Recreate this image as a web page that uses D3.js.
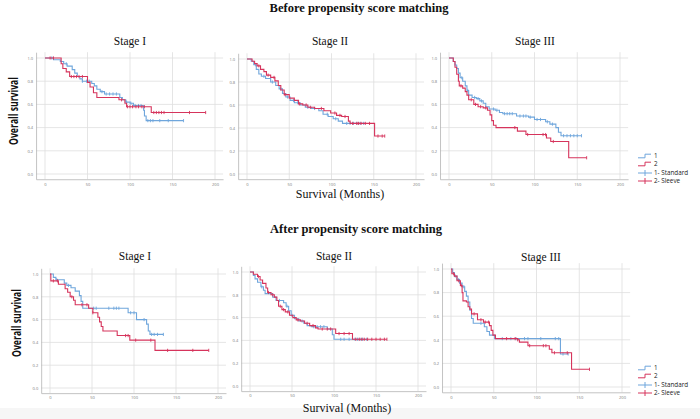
<!DOCTYPE html>
<html>
<head>
<meta charset="utf-8">
<script src="https://cdn.jsdelivr.net/npm/d3@7"></script>
<style>
	body { margin: 0; background: white; }
</style>
</head>
<body>
<div id="viz"></div>
<script>

// Axis ticks
var xTicks = [0, 50, 100, 150, 200],
	yTicks = [0, 0.2, 0.4, 0.6, 0.8, 1.0];

var stageNames = ["Stage I", "Stage II", "Stage III"],
	rowTitles = ["Before propensity score matching", "After propensity score matching"],
	legendLabels = ["1", "2", "1- Standard", "2- Sleeve"];

// Kaplan-Meier steps [month, survival], last follow-up and censored months
// Before matching, stage I
var beforeIStandard = [[0,1],[10,0.985],[18,0.97],[22,0.95],[26,0.93],[32,0.90],[35,0.87],[38,0.84],[41,0.82],[44,0.80],[55,0.78],[58,0.76],[61,0.73],[65,0.71],[70,0.69],[88,0.66],[91,0.64],[95,0.62],[100,0.61],[104,0.59],[116,0.55],[117,0.50],[119,0.46]],
	beforeIStandardEnd = 163,
	beforeIStandardCensor = [8, 25, 44, 49, 52, 67, 72, 76, 80, 84, 96, 101, 106, 110, 113, 121, 124, 127, 135, 145, 163];
var beforeISleeve = [[0,1],[19,0.95],[21,0.91],[25,0.88],[29,0.84],[50,0.79],[53,0.75],[57,0.70],[61,0.66],[87,0.64],[94,0.61],[96,0.58],[125,0.53]],
	beforeISleeveEnd = 189,
	beforeISleeveCensor = [6, 10, 31, 34, 37, 40, 44, 90, 97, 100, 103, 107, 110, 114, 117, 128, 131, 134, 137, 140, 170, 189];

// Before matching, stage II
var beforeIIStandard = [[0,1],[5,0.98],[8,0.95],[11,0.91],[14,0.87],[17,0.85],[22,0.83],[28,0.80],[34,0.77],[38,0.74],[42,0.70],[46,0.67],[51,0.64],[56,0.62],[63,0.60],[69,0.58],[76,0.57],[85,0.55],[90,0.52],[96,0.50],[102,0.48],[108,0.46],[113,0.44]],
	beforeIIStandardEnd = 140,
	beforeIIStandardCensor = [10, 20, 30, 40, 48, 55, 60, 72, 80, 95, 105, 118, 122, 126, 130, 134, 138];
var beforeIISleeve = [[0,1],[6,0.98],[9,0.96],[12,0.94],[16,0.91],[20,0.89],[23,0.86],[28,0.84],[33,0.81],[37,0.77],[40,0.73],[44,0.69],[50,0.66],[56,0.64],[61,0.61],[66,0.60],[72,0.58],[80,0.57],[91,0.55],[99,0.53],[106,0.51],[112,0.50],[120,0.46],[122,0.44],[151,0.33]],
	beforeIISleeveEnd = 163,
	beforeIISleeveCensor = [14, 25, 32, 45, 62, 70, 75, 88, 104, 110, 116, 125, 130, 132, 135, 140, 145, 155, 160, 163];

// Before matching, stage III
var beforeIIIStandard = [[0,1],[5,0.97],[7,0.94],[9,0.91],[11,0.87],[13,0.83],[16,0.80],[19,0.76],[21,0.72],[23,0.68],[27,0.66],[32,0.65],[36,0.63],[40,0.61],[43,0.58],[47,0.56],[54,0.55],[59,0.53],[63,0.52],[79,0.50],[93,0.49],[100,0.47],[113,0.45],[118,0.43],[125,0.40],[128,0.36],[131,0.33]],
	beforeIIIStandardEnd = 155,
	beforeIIIStandardCensor = [15, 22, 30, 34, 38, 52, 56, 65, 68, 71, 74, 83, 87, 90, 95, 103, 107, 115, 121, 134, 138, 142, 146, 150, 155];
var beforeIIISleeve = [[0,1],[5,0.97],[7,0.92],[9,0.86],[11,0.80],[12,0.76],[16,0.74],[19,0.71],[21,0.68],[23,0.64],[29,0.60],[34,0.58],[40,0.57],[45,0.55],[48,0.51],[50,0.46],[52,0.42],[55,0.40],[80,0.37],[90,0.34],[114,0.31],[119,0.28],[140,0.14]],
	beforeIIISleeveEnd = 161,
	beforeIIISleeveCensor = [14, 26, 31, 37, 43, 77, 92, 110, 113, 122, 161];

// After matching, stage I
var afterIStandard = [[0,1],[4,0.97],[7,0.95],[17,0.92],[20,0.90],[25,0.88],[30,0.85],[35,0.81],[37,0.76],[39,0.70],[93,0.66],[103,0.60],[115,0.56],[117,0.50],[119,0.47]],
	afterIStandardEnd = 135,
	afterIStandardCensor = [8, 22, 52, 55, 70, 76, 79, 82, 96, 100, 112, 121, 124, 128, 135];
var afterISleeve = [[0,1],[1,0.94],[10,0.91],[18,0.87],[21,0.84],[24,0.80],[28,0.77],[30,0.73],[46,0.70],[51,0.66],[57,0.62],[59,0.58],[61,0.54],[63,0.50],[80,0.46],[95,0.42],[125,0.33]],
	afterISleeveEnd = 189,
	afterISleeveCensor = [4, 9, 26, 38, 44, 51, 90, 93, 102, 120, 140, 170, 189];

// After matching, stage II
var afterIIStandard = [[0,1],[4,0.97],[6,0.94],[9,0.91],[13,0.87],[16,0.84],[18,0.81],[27,0.78],[31,0.75],[40,0.73],[43,0.70],[46,0.66],[49,0.62],[53,0.59],[58,0.57],[64,0.55],[68,0.53],[73,0.52],[92,0.50],[98,0.45],[100,0.41]],
	afterIIStandardEnd = 139,
	afterIIStandardCensor = [14, 35, 44, 50, 62, 76, 80, 84, 88, 108, 112, 118, 125, 128, 131, 134, 139];
var afterIISleeve = [[0,1],[4,0.98],[9,0.96],[12,0.93],[15,0.90],[19,0.86],[21,0.82],[25,0.80],[29,0.78],[32,0.75],[34,0.70],[38,0.67],[42,0.65],[47,0.62],[51,0.60],[55,0.58],[60,0.57],[65,0.55],[71,0.53],[78,0.51],[81,0.50],[102,0.46],[122,0.41]],
	afterIISleeveEnd = 163,
	afterIISleeveCensor = [10, 22, 27, 36, 40, 45, 57, 68, 75, 86, 92, 96, 106, 112, 118, 126, 130, 133, 136, 140, 145, 150, 155, 160, 163];

// After matching, stage III
var afterIIIStandard = [[0,1],[2,0.97],[4,0.94],[7,0.91],[10,0.88],[13,0.85],[16,0.81],[18,0.77],[20,0.72],[22,0.65],[24,0.58],[26,0.54],[39,0.51],[42,0.47],[45,0.44],[51,0.41],[128,0.28]],
	afterIIIStandardEnd = 137,
	afterIIIStandardCensor = [5, 9, 15, 35, 60, 70, 76, 86, 90, 105, 122, 126, 131, 137];
var afterIIISleeve = [[0,1],[1,0.96],[4,0.94],[7,0.90],[11,0.86],[13,0.80],[14,0.73],[18,0.72],[20,0.68],[22,0.66],[24,0.62],[31,0.57],[38,0.55],[45,0.52],[47,0.48],[49,0.44],[52,0.41],[78,0.40],[80,0.38],[90,0.35],[115,0.32],[118,0.29],[141,0.15]],
	afterIIISleeveEnd = 162,
	afterIIISleeveCensor = [3, 9, 12, 27, 35, 40, 44, 65, 75, 78, 92, 108, 111, 121, 136, 162];

var colors = {
	standard: "#6fa6dc",
	sleeve: "#d6345c",
	grid: "#dedede",
	axis: "#b4b4b4",
	tickLabel: "#7a7a7a"
};

// Panel layout: pixel positions of month 0 / 200 and survival 1 / 0
var panels = [
	{row: 0, stage: 0, x0: 45, x200: 215, y1: 58, y0: 174, tx: 130, ty: 45, series: [
		{steps: beforeIStandard, end: beforeIStandardEnd, censor: beforeIStandardCensor, color: colors.standard},
		{steps: beforeISleeve, end: beforeISleeveEnd, censor: beforeISleeveCensor, color: colors.sleeve}]},
	{row: 0, stage: 1, x0: 247, x200: 416, y1: 59, y0: 174, tx: 330, ty: 45, series: [
		{steps: beforeIIStandard, end: beforeIIStandardEnd, censor: beforeIIStandardCensor, color: colors.standard},
		{steps: beforeIISleeve, end: beforeIISleeveEnd, censor: beforeIISleeveCensor, color: colors.sleeve}]},
	{row: 0, stage: 2, x0: 449, x200: 620, y1: 58, y0: 174, tx: 535, ty: 45, series: [
		{steps: beforeIIIStandard, end: beforeIIIStandardEnd, censor: beforeIIIStandardCensor, color: colors.standard},
		{steps: beforeIIISleeve, end: beforeIIISleeveEnd, censor: beforeIIISleeveCensor, color: colors.sleeve}]},
	{row: 1, stage: 0, x0: 50, x200: 218, y1: 274, y0: 388, tx: 135, ty: 260, series: [
		{steps: afterIStandard, end: afterIStandardEnd, censor: afterIStandardCensor, color: colors.standard},
		{steps: afterISleeve, end: afterISleeveEnd, censor: afterISleeveCensor, color: colors.sleeve}]},
	{row: 1, stage: 1, x0: 250, x200: 418, y1: 272, y0: 386, tx: 334, ty: 260, series: [
		{steps: afterIIStandard, end: afterIIStandardEnd, censor: afterIIStandardCensor, color: colors.standard},
		{steps: afterIISleeve, end: afterIISleeveEnd, censor: afterIISleeveCensor, color: colors.sleeve}]},
	{row: 1, stage: 2, x0: 451, x200: 622, y1: 269, y0: 387, tx: 541, ty: 261, series: [
		{steps: afterIIIStandard, end: afterIIIStandardEnd, censor: afterIIIStandardCensor, color: colors.standard},
		{steps: afterIIISleeve, end: afterIIISleeveEnd, censor: afterIIISleeveCensor, color: colors.sleeve}]}
];

// Row decorations
var rows = [
	{titleX: 359, titleY: 12, ylabX: 15, ylabY: 111, xlabX: 340, xlabY: 198, legendY: [156, 164, 173, 181]},
	{titleX: 356, titleY: 233, ylabX: 18, ylabY: 323, xlabX: 347, xlabY: 412, legendY: [368, 376, 385, 393]}
];

var serif = "'Liberation Serif', 'DejaVu Serif', serif",
	sans = "'Open Sans', 'Noto Sans', sans-serif";

var svg = d3.select("#viz")
	.append("svg")
	.attr("width", 700)
	.attr("height", 419)
	.style("background-color", "white");

// Faint band at the bottom of the scan
svg.append("rect")
	.attr("x", 0)
	.attr("y", 408)
	.attr("width", 700)
	.attr("height", 11)
	.style("fill", "#f6f6f6");

var survivalAt = (steps, t) => {
	var s = steps[0][1];
	steps.forEach(d => { if (d[0] <= t) s = d[1]; });
	return s;
};

var drawPanel = (panel) => {
	var x = d3.scaleLinear([0, 200], [panel.x0, panel.x200]),
		y = d3.scaleLinear([0, 1], [panel.y0, panel.y1]);

	var left = x(-10.5),
		right = x(209.5),
		top = y(1.05),
		bottom = y(-0.045);

	var g = svg.append("g");

	// Grid lines
	g.selectAll(".hgrid")
		.data(yTicks)
		.enter()
		.append("line")
		.attr("class", "hgrid")
		.attr("x1", left)
		.attr("x2", right)
		.attr("y1", d => y(d))
		.attr("y2", d => y(d))
		.style("stroke", colors.grid)
		.style("stroke-width", 0.8);

	g.selectAll(".vgrid")
		.data(xTicks)
		.enter()
		.append("line")
		.attr("class", "vgrid")
		.attr("x1", d => x(d))
		.attr("x2", d => x(d))
		.attr("y1", top)
		.attr("y2", bottom)
		.style("stroke", colors.grid)
		.style("stroke-width", 0.8);

	// Axes
	var yAxis = d3.axisLeft(y.copy().domain([-0.045, 1.05]).range([bottom, top]))
		.tickValues(yTicks)
		.tickFormat(d3.format(".1f"))
		.tickSize(0)
		.tickPadding(3);
	var xAxis = d3.axisBottom(x.copy().domain([-10.5, 209.5]).range([left, right]))
		.tickValues(xTicks)
		.tickSize(0)
		.tickPadding(3.5);

	g.append("g")
		.attr("transform", `translate(${left}, 0)`)
		.call(yAxis);
	g.append("g")
		.attr("transform", `translate(0, ${bottom})`)
		.call(xAxis);

	g.selectAll(".domain")
		.style("stroke", colors.axis)
		.style("stroke-width", 0.8);
	g.selectAll(".tick text")
		.style("font-family", sans)
		.style("font-size", "4px")
		.style("fill", colors.tickLabel);

	// Survival curves
	var line = d3.line()
		.x(d => x(d[0]))
		.y(d => y(d[1]))
		.curve(d3.curveStepAfter);

	panel.series.forEach(s => {
		var pts = s.steps.concat([[s.end, s.steps[s.steps.length - 1][1]]]);
		g.append("path")
			.attr("d", line(pts))
			.style("fill", "none")
			.style("stroke", s.color)
			.style("stroke-width", 1.1);

		g.selectAll(null)
			.data(s.censor)
			.enter()
			.append("line")
			.attr("x1", d => x(d))
			.attr("x2", d => x(d))
			.attr("y1", d => y(survivalAt(s.steps, d)) - 1.6)
			.attr("y2", d => y(survivalAt(s.steps, d)) + 1.6)
			.style("stroke", s.color)
			.style("stroke-width", 0.9);
	});

	// Stage title
	svg.append("text")
		.attr("x", panel.tx)
		.attr("y", panel.ty)
		.attr("text-anchor", "middle")
		.style("font-family", serif)
		.style("font-size", "11.5px")
		.style("fill", "#111")
		.text(stageNames[panel.stage]);
};

panels.forEach(drawPanel);

// Row titles, axis titles and legends
rows.forEach((r, i) => {
	svg.append("text")
		.attr("x", r.titleX)
		.attr("y", r.titleY)
		.attr("text-anchor", "middle")
		.style("font-family", serif)
		.style("font-weight", "bold")
		.style("font-size", "12.5px")
		.style("fill", "#111")
		.text(rowTitles[i]);

	svg.append("text")
		.attr("transform", `translate(${r.ylabX}, ${r.ylabY}) rotate(-90)`)
		.attr("text-anchor", "middle")
		.attr("dominant-baseline", "middle")
		.attr("textLength", 68)
		.attr("lengthAdjust", "spacingAndGlyphs")
		.style("font-family", sans)
		.style("font-weight", "bold")
		.style("font-size", "12.5px")
		.style("fill", "#111")
		.text("Overall survival");

	svg.append("text")
		.attr("x", r.xlabX)
		.attr("y", r.xlabY)
		.attr("text-anchor", "middle")
		.style("font-family", serif)
		.style("font-size", "12px")
		.style("fill", "#111")
		.text("Survival (Months)");

	// Legend
	var legend = svg.append("g");
	legendLabels.forEach((label, j) => {
		var ly = r.legendY[j],
			c = j % 2 == 0 ? colors.standard : colors.sleeve;
		if (j < 2) {
			legend.append("path")
				.attr("d", `M638,${ly + 1.8}H645V${ly - 1.8}H651`)
				.style("fill", "none")
				.style("stroke", c)
				.style("stroke-width", 1);
		} else {
			legend.append("path")
				.attr("d", `M638,${ly}H652M645,${ly - 3}V${ly + 3}`)
				.style("fill", "none")
				.style("stroke", c)
				.style("stroke-width", 1);
		}
		legend.append("text")
			.attr("x", 654)
			.attr("y", ly + 2.3)
			.style("font-family", sans)
			.style("font-size", "6.3px")
			.style("fill", "#222")
			.text(label);
	});
});
</script>
</body>
</html>
